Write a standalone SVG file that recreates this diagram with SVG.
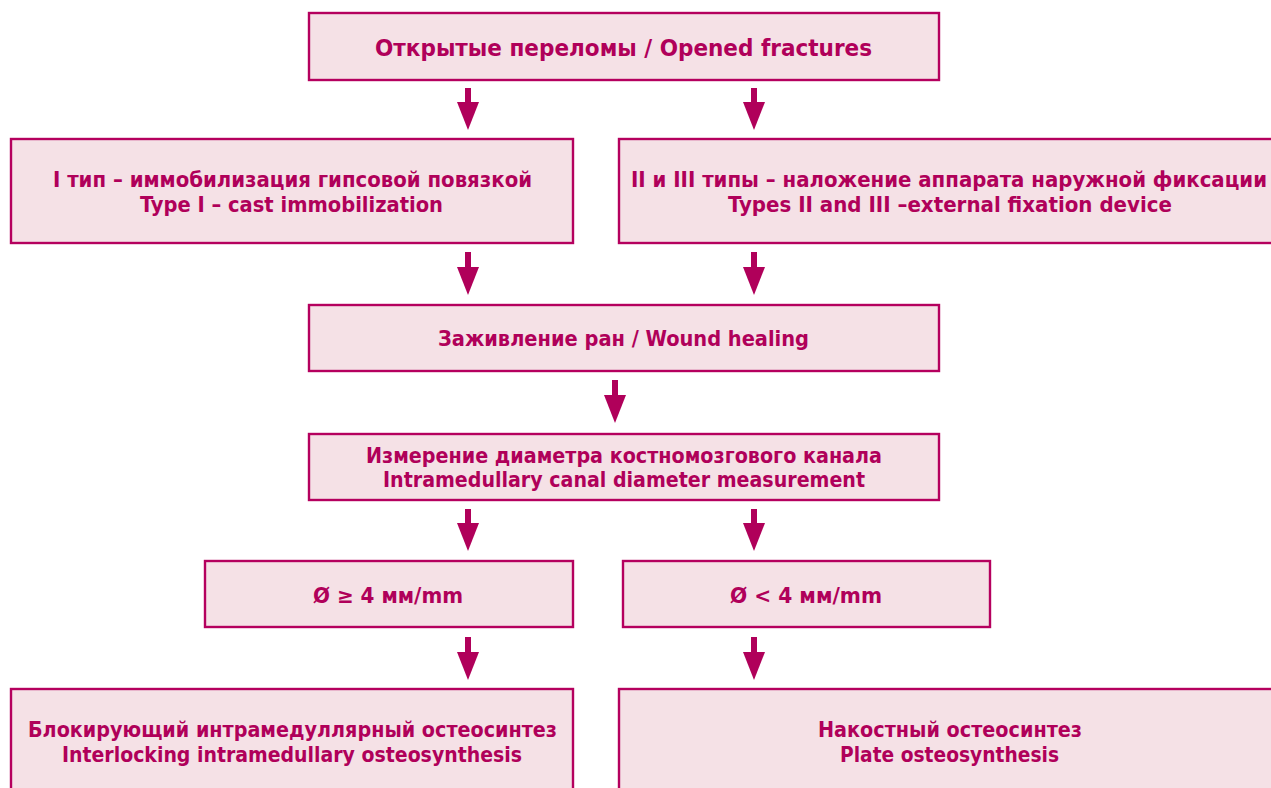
<svg xmlns="http://www.w3.org/2000/svg" width="1271" height="788" viewBox="0 0 1271 788">
<defs>
<style>
.box{fill:#f5e1e6;stroke:#b5005e;stroke-width:2.4}
.t{font-family:'DejaVu Sans Condensed','DejaVu Sans',sans-serif;font-weight:bold;font-stretch:condensed;font-size:21px;fill:#b0005a;text-anchor:middle}
.big{font-size:23px}
.conn{stroke:#b0005a;stroke-width:6;fill:none}
</style>
<marker id="ah" markerUnits="userSpaceOnUse" viewBox="0 -12 30 24" refX="1" refY="0" markerWidth="30" markerHeight="24" orient="auto">
<path d="M0,-11 L28,0 L0,11 Z" fill="#b0005a"/>
</marker>
</defs>
<rect width="1271" height="788" fill="#ffffff"/>
<g id="n1">
<rect class="box" x="309" y="13" width="630" height="67"/>
<text class="t big" x="623.5" y="56" textLength="497" lengthAdjust="spacingAndGlyphs">Открытые переломы / Opened fractures</text>
</g>
<g id="n2a">
<rect class="box" x="11" y="139" width="562" height="104"/>
<text class="t" x="292.5" y="187" textLength="479" lengthAdjust="spacingAndGlyphs">I тип – иммобилизация гипсовой повязкой</text>
<text class="t" x="291.5" y="211.5" textLength="303" lengthAdjust="spacingAndGlyphs">Type I – cast immobilization</text>
</g>
<g id="n2b">
<rect class="box" x="619" y="139" width="680" height="104"/>
<text class="t" x="949" y="187" textLength="636" lengthAdjust="spacingAndGlyphs">II и III типы – наложение аппарата наружной фиксации</text>
<text class="t" x="950" y="211.5" textLength="444" lengthAdjust="spacingAndGlyphs">Types II and III –external fixation device</text>
</g>
<g id="n3">
<rect class="box" x="309" y="305" width="630" height="66"/>
<text class="t" x="623.5" y="345.5" textLength="371" lengthAdjust="spacingAndGlyphs">Заживление ран / Wound healing</text>
</g>
<g id="n4">
<rect class="box" x="309" y="434" width="630" height="66"/>
<text class="t" x="624" y="462.5" textLength="516" lengthAdjust="spacingAndGlyphs">Измерение диаметра костномозгового канала</text>
<text class="t" x="624" y="487" textLength="482" lengthAdjust="spacingAndGlyphs">Intramedullary canal diameter measurement</text>
</g>
<g id="n5a">
<rect class="box" x="205" y="561" width="368" height="66"/>
<text class="t" x="388" y="602.5" textLength="150" lengthAdjust="spacingAndGlyphs">Ø ≥ 4 мм/mm</text>
</g>
<g id="n5b">
<rect class="box" x="623" y="561" width="367" height="66"/>
<text class="t" x="806" y="602.5" textLength="152" lengthAdjust="spacingAndGlyphs">Ø &lt; 4 мм/mm</text>
</g>
<g id="n6a">
<rect class="box" x="11" y="689" width="562" height="120"/>
<text class="t" x="292.5" y="737" textLength="529" lengthAdjust="spacingAndGlyphs">Блокирующий интрамедуллярный остеосинтез</text>
<text class="t" x="292" y="762" textLength="460" lengthAdjust="spacingAndGlyphs">Interlocking intramedullary osteosynthesis</text>
</g>
<g id="n6b">
<rect class="box" x="619" y="689" width="680" height="120"/>
<text class="t" x="950" y="737" textLength="264" lengthAdjust="spacingAndGlyphs">Накостный остеосинтез</text>
<text class="t" x="949.5" y="762" textLength="219" lengthAdjust="spacingAndGlyphs">Plate osteosynthesis</text>
</g>
<g id="connectors">
<line class="conn" x1="468" y1="88" x2="468" y2="103" marker-end="url(#ah)"/>
<line class="conn" x1="754" y1="88" x2="754" y2="103" marker-end="url(#ah)"/>
<line class="conn" x1="468" y1="252" x2="468" y2="268" marker-end="url(#ah)"/>
<line class="conn" x1="754" y1="252" x2="754" y2="268" marker-end="url(#ah)"/>
<line class="conn" x1="615" y1="380" x2="615" y2="396" marker-end="url(#ah)"/>
<line class="conn" x1="468" y1="509" x2="468" y2="524" marker-end="url(#ah)"/>
<line class="conn" x1="754" y1="509" x2="754" y2="524" marker-end="url(#ah)"/>
<line class="conn" x1="468" y1="637" x2="468" y2="653" marker-end="url(#ah)"/>
<line class="conn" x1="754" y1="637" x2="754" y2="653" marker-end="url(#ah)"/>
</g>
</svg>
